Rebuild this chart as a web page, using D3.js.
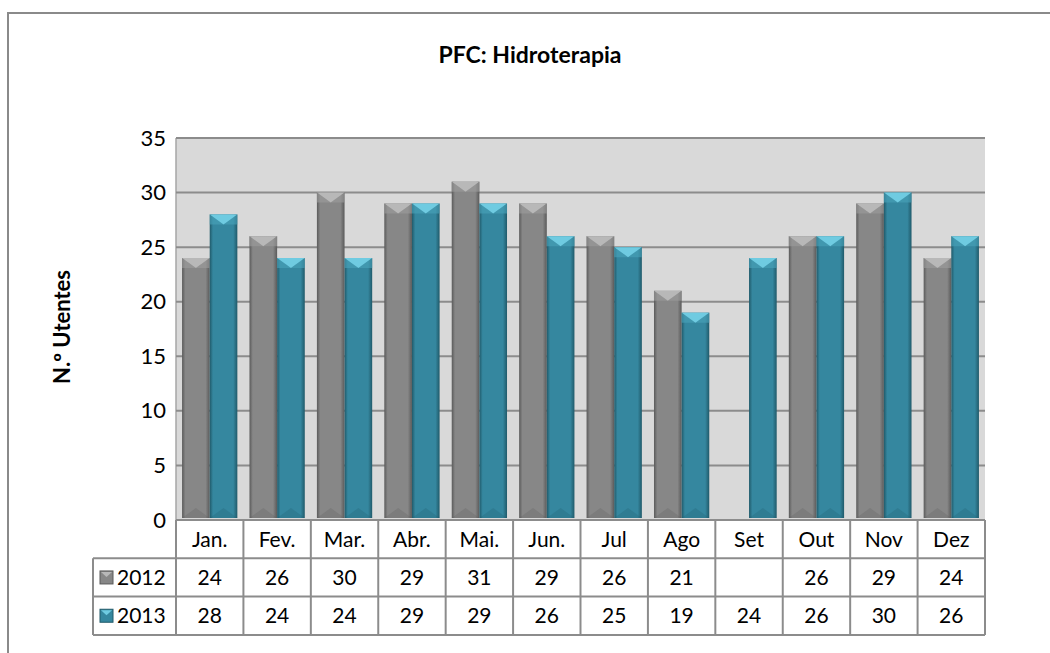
<!DOCTYPE html>
<html>
<head>
<meta charset="utf-8">
<script src="https://cdn.jsdelivr.net/npm/d3@7"></script>
<style>
  body { margin: 0; background: #fff; }
  svg { display: block; font-family: Lato, "Open Sans", sans-serif; }
</style>
</head>
<body>
<div id="chart"></div>
<script>
// Data
const months = ["Jan.", "Fev.", "Mar.", "Abr.", "Mai.", "Jun.", "Jul", "Ago", "Set", "Out", "Nov", "Dez"];
const series = ["2012", "2013"];
const values2012 = [24, 26, 30, 29, 31, 29, 26, 21, null, 26, 29, 24];
const values2013 = [28, 24, 24, 29, 29, 26, 25, 19, 24, 26, 30, 26];
const yTicks = [0, 5, 10, 15, 20, 25, 30, 35];

const width = 1050, height = 653;
const plot = { left: 176, right: 985, top: 138, bottom: 520 };
const rowH = 38.3;
const tableLeft = 93;
const fontSize = 21;

// Colours for each series: body, dark edge, light bevel
const colors = {
  "2012": { body: "#878787", edge: "#5a5a5a", light: "#b8b8b8", side: "#9c9c9c" },
  "2013": { body: "#35879f", edge: "#205a6a", light: "#6fcbe1", side: "#4aa3bb" }
};

const rows = series.map((s, i) => ({ name: s, values: i === 0 ? values2012 : values2013 }));

const svg = d3.select("#chart").append("svg")
    .attr("width", width)
    .attr("height", height);

// Horizontal gradients for bar bodies
const defs = svg.append("defs");
series.forEach(s => {
  const g = defs.append("linearGradient").attr("id", "grad" + s)
      .attr("x1", "0").attr("x2", "1").attr("y1", "0").attr("y2", "0");
  g.append("stop").attr("offset", "0").attr("stop-color", colors[s].edge);
  g.append("stop").attr("offset", "0.12").attr("stop-color", colors[s].body);
  g.append("stop").attr("offset", "0.85").attr("stop-color", colors[s].body);
  g.append("stop").attr("offset", "1").attr("stop-color", colors[s].edge);
});

// Outer chart border
svg.append("rect")
    .attr("x", 8).attr("y", 13)
    .attr("width", width + 20).attr("height", height + 20)
    .attr("fill", "none").attr("stroke", "#8a8a8a").attr("stroke-width", 2);

// Title
svg.append("text")
    .attr("x", 530).attr("y", 63)
    .attr("text-anchor", "middle")
    .attr("font-size", 23).attr("font-weight", "bold")
    .text("PFC: Hidroterapia");

// Scales
const x0 = d3.scaleBand().domain(months).range([plot.left, plot.right])
    .paddingInner(0.18).paddingOuter(0.09);
const x1 = d3.scaleBand().domain(series).range([0, x0.bandwidth()]);
const y = d3.scaleLinear().domain([0, 35]).range([plot.bottom, plot.top]);

// Plot background
svg.append("rect")
    .attr("x", plot.left).attr("y", plot.top)
    .attr("width", plot.right - plot.left).attr("height", plot.bottom - plot.top)
    .attr("fill", "#d9d9d9");

svg.append("line")
    .attr("x1", plot.left).attr("x2", plot.left)
    .attr("y1", plot.top).attr("y2", plot.bottom)
    .attr("stroke", "#a6a6a6").attr("stroke-width", 1.5);

// Gridlines
svg.append("g")
  .selectAll("line")
  .data(yTicks.filter(d => d > 0))
  .join("line")
    .attr("x1", plot.left).attr("x2", plot.right)
    .attr("y1", d => y(d)).attr("y2", d => y(d))
    .attr("stroke", "#8c8c8c").attr("stroke-width", 2);

// Y axis labels
const yAxis = svg.append("g")
    .attr("transform", `translate(${plot.left - 10},0)`)
    .call(d3.axisLeft(y).tickValues(yTicks).tickSize(0).tickPadding(0));
yAxis.select(".domain").remove();
yAxis.selectAll("text")
    .attr("font-size", 22).attr("font-family", "Lato, 'Open Sans', sans-serif")
    .attr("fill", "#000");

// Y axis title
svg.append("text")
    .attr("transform", "translate(70,327) rotate(-90)")
    .attr("text-anchor", "middle")
    .attr("font-size", 22).attr("font-weight", "bold")
    .text("N.º Utentes");

// Bars
const bevel = 10;
const groups = svg.append("g")
  .selectAll("g")
  .data(months)
  .join("g")
    .attr("transform", d => `translate(${x0(d)},0)`);

const bars = groups.selectAll("g")
  .data((m, i) => rows.filter(r => r.values[i] != null).map(r => ({ key: r.name, value: r.values[i] })))
  .join("g");

bars.append("rect")
    .attr("x", d => x1(d.key))
    .attr("y", d => y(d.value))
    .attr("width", x1.bandwidth())
    .attr("height", d => y(0) - y(d.value) - 2)
    .attr("fill", d => `url(#grad${d.key})`);

// side facets of the top bevel
bars.append("path")
    .attr("fill", d => colors[d.key].side)
    .attr("d", d => {
      const xa = x1(d.key), xb = xa + x1.bandwidth(), xm = (xa + xb) / 2, yt = y(d.value);
      return `M${xa},${yt}L${xm},${yt + bevel}L${xa},${yt + bevel}Z M${xb},${yt}L${xm},${yt + bevel}L${xb},${yt + bevel}Z`;
    })
    .attr("opacity", 0.6);

// light top facet
bars.append("path")
    .attr("fill", d => colors[d.key].light)
    .attr("d", d => {
      const xa = x1(d.key), xb = xa + x1.bandwidth(), xm = (xa + xb) / 2, yt = y(d.value);
      return `M${xa},${yt}L${xb},${yt}L${xm},${yt + bevel}Z`;
    });

// dark bottom facet
bars.append("path")
    .attr("fill", d => colors[d.key].edge)
    .attr("opacity", 0.25)
    .attr("d", d => {
      const xa = x1(d.key), xb = xa + x1.bandwidth(), xm = (xa + xb) / 2, yb = y(0) - 2;
      return `M${xa},${yb}L${xb},${yb}L${xm},${yb - bevel}Z`;
    });

// Data table
const table = svg.append("g").attr("stroke", "#8c8c8c").attr("stroke-width", 2);
const colEdges = months.map((m, i) => plot.left + i * x0.step()).concat([plot.right]);

table.append("line")
    .attr("x1", plot.left).attr("x2", plot.right)
    .attr("y1", plot.bottom).attr("y2", plot.bottom);
[1, 2, 3].forEach(k => {
  table.append("line")
      .attr("x1", tableLeft).attr("x2", plot.right)
      .attr("y1", plot.bottom + k * rowH).attr("y2", plot.bottom + k * rowH);
});
table.selectAll(".vcol")
  .data(colEdges)
  .join("line")
    .attr("x1", d => d).attr("x2", d => d)
    .attr("y1", plot.bottom).attr("y2", plot.bottom + 3 * rowH);
table.append("line")
    .attr("x1", tableLeft).attr("x2", tableLeft)
    .attr("y1", plot.bottom + rowH).attr("y2", plot.bottom + 3 * rowH);

// Month labels
svg.append("g")
  .selectAll("text")
  .data(months)
  .join("text")
    .attr("x", d => plot.left + (months.indexOf(d) + 0.5) * x0.step())
    .attr("y", plot.bottom + rowH / 2)
    .attr("dy", "0.35em")
    .attr("text-anchor", "middle")
    .attr("font-size", fontSize)
    .text(d => d);

// Value rows
rows.forEach((r, ri) => {
  const cy = plot.bottom + (ri + 1.5) * rowH;
  svg.append("g")
    .selectAll("text")
    .data(r.values)
    .join("text")
      .attr("x", (d, i) => plot.left + (i + 0.5) * x0.step())
      .attr("y", cy)
      .attr("dy", "0.35em")
      .attr("text-anchor", "middle")
      .attr("font-size", fontSize)
      .text(d => d == null ? "" : d);

  // legend key
  const kx = 100, ks = 13, ky = cy - ks / 2;
  const key = svg.append("g");
  key.append("rect").attr("x", kx).attr("y", ky).attr("width", ks).attr("height", ks)
      .attr("fill", colors[r.name].body).attr("stroke", colors[r.name].edge).attr("stroke-width", 1);
  key.append("path")
      .attr("d", `M${kx + 1},${ky + 1}L${kx + ks - 1},${ky + 1}L${kx + ks / 2},${ky + 6}Z`)
      .attr("fill", colors[r.name].light);
  svg.append("text")
      .attr("x", 117).attr("y", cy).attr("dy", "0.35em")
      .attr("font-size", fontSize)
      .text(r.name);
});
</script>
</body>
</html>
